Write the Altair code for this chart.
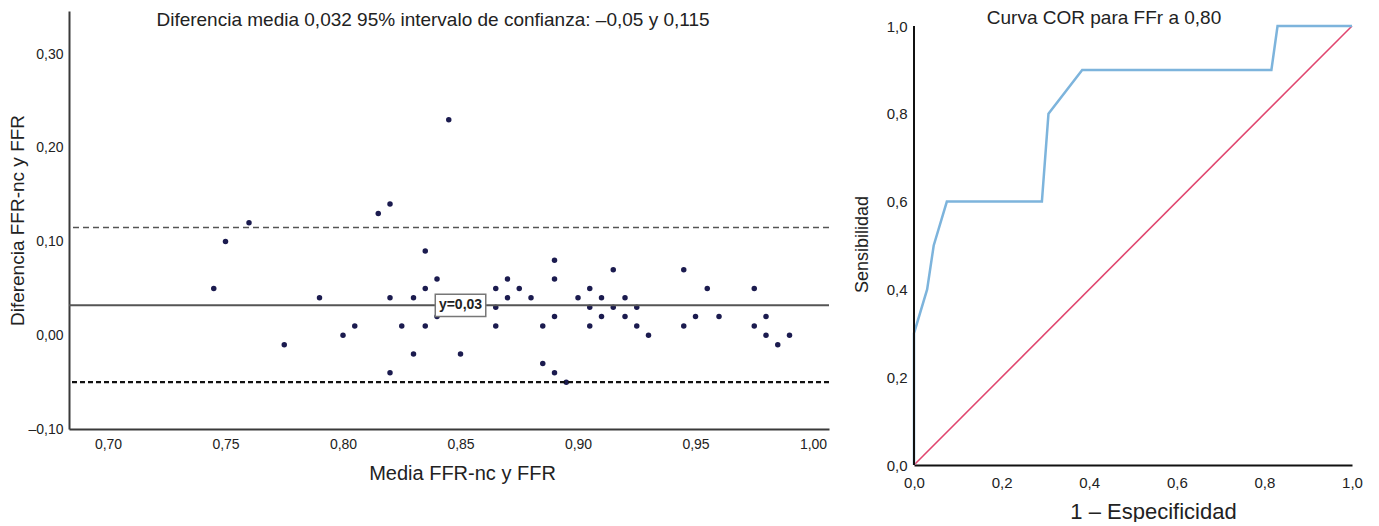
import altair as alt
import pandas as pd

FONT = "Liberation Sans"

# ---- Bland-Altman data ----
media = [0.745, 0.75, 0.76, 0.775, 0.79, 0.80, 0.805, 0.815, 0.82, 0.82, 0.82, 0.825,
         0.83, 0.83, 0.835, 0.835, 0.835, 0.84, 0.84, 0.845, 0.85, 0.85, 0.865, 0.865,
         0.865, 0.87, 0.87, 0.875, 0.88, 0.885, 0.885, 0.89, 0.89, 0.89, 0.89, 0.895,
         0.90, 0.905, 0.905, 0.905, 0.91, 0.91, 0.915, 0.915, 0.92, 0.92, 0.925, 0.925,
         0.93, 0.945, 0.945, 0.95, 0.955, 0.96, 0.975, 0.975, 0.98, 0.98, 0.985, 0.99]
diferencia = [0.05, 0.10, 0.12, -0.01, 0.04, 0.00, 0.01, 0.13, 0.14, 0.04, -0.04, 0.01,
              0.04, -0.02, 0.09, 0.05, 0.01, 0.06, 0.02, 0.23, 0.04, -0.02, 0.05, 0.03,
              0.01, 0.06, 0.04, 0.05, 0.04, 0.01, -0.03, 0.08, 0.06, 0.02, -0.04, -0.05,
              0.04, 0.05, 0.03, 0.01, 0.04, 0.02, 0.07, 0.03, 0.04, 0.02, 0.03, 0.01,
              0.00, 0.07, 0.01, 0.02, 0.05, 0.02, 0.05, 0.01, 0.02, 0.00, -0.01, 0.00]
mean_diff = 0.032
upper_loa = 0.115
lower_loa = -0.05
mean_label = "y=0,03"
x_ticks = [0.70, 0.75, 0.80, 0.85, 0.90, 0.95, 1.00]
y_ticks = [-0.10, 0.00, 0.10, 0.20, 0.30]

# ---- ROC data ----
fpr = [0.0, 0.0, 0.03, 0.045, 0.075, 0.292, 0.307, 0.384, 0.816, 0.83, 1.0]
tpr = [0.0, 0.3, 0.4, 0.5, 0.6, 0.6, 0.8, 0.9, 0.9, 1.0, 1.0]
ref_x = [0.0, 1.0]
ref_y = [0.0, 1.0]
roc_ticks = [0.0, 0.2, 0.4, 0.6, 0.8, 1.0]

lbl2 = "replace(replace(format(datum.value, '.2f'), '.', ','), '\u2212', '\u2013')"
lbl1 = "replace(format(datum.value, '.1f'), '.', ',')"

ba_df = pd.DataFrame({"media": media, "diferencia": diferencia})
lab_df = pd.DataFrame({"media": [0.85], "diferencia": [mean_diff], "texto": [mean_label]})

xs = alt.Scale(domain=[0.6834, 1.0068], nice=False, zero=False)
ys = alt.Scale(domain=[-0.10, 0.346], nice=False, zero=False)

common_axis = dict(ticks=False, grid=False, domainColor="#3a3a3a", domainWidth=2,
                   labelColor="#222", titleColor="#222", labelFont=FONT, titleFont=FONT,
                   titleFontWeight="normal", labelFlush=False)

points = alt.Chart(ba_df).mark_circle(size=30, color="#1b1b4f", opacity=1).encode(
    x=alt.X("media:Q", scale=xs,
            axis=alt.Axis(values=x_ticks, labelExpr=lbl2, title="Media FFR-nc y FFR",
                          labelPadding=8, labelFontSize=14, titleFontSize=20,
                          titlePadding=12, titleX=393, **common_axis)),
    y=alt.Y("diferencia:Q", scale=ys,
            axis=alt.Axis(values=y_ticks, labelExpr=lbl2, title="Diferencia FFR-nc y FFR",
                          labelPadding=6, labelFontSize=14, titleFontSize=19,
                          titlePadding=0, **common_axis)),
)

mean_rule = alt.Chart(lab_df).mark_rule(color="#555", strokeWidth=2).encode(
    y=alt.datum(mean_diff))
up_rule = alt.Chart(lab_df).mark_rule(color="#555", strokeWidth=1.6, strokeDash=[6, 4]).encode(
    y=alt.datum(upper_loa))
lo_rule = alt.Chart(lab_df).mark_rule(color="#111", strokeWidth=2.2, strokeDash=[5, 3]).encode(
    y=alt.datum(lower_loa))

box = alt.Chart(lab_df).mark_point(
    shape="M-1,-0.44L1,-0.44L1,0.44L-1,0.44Z", size=2550, filled=True,
    fill="white", fillOpacity=1, stroke="#777", strokeWidth=1.5, opacity=1
).encode(x="media:Q", y="diferencia:Q")
box_text = alt.Chart(lab_df).mark_text(
    font=FONT, fontSize=14, fontWeight="bold", color="#222"
).encode(x="media:Q", y="diferencia:Q", text="texto:N")

left = alt.layer(points, up_rule, lo_rule, mean_rule, box, box_text).properties(
    width=760, height=418,
    title=alt.TitleParams(
        text="Diferencia media 0,032 95% intervalo de confianza: \u20130,05 y 0,115",
        font=FONT, fontSize=19, fontWeight="normal", color="#222",
        anchor="middle", frame="group", offset=-19, dx=-16),
)

# ---- ROC chart ----
roc_df = pd.DataFrame({"fpr": fpr, "tpr": tpr, "orden": list(range(len(fpr)))})
diag_df = pd.DataFrame({"fpr": ref_x, "tpr": ref_y, "orden": [0, 1]})
rxs = alt.Scale(domain=[0, 1], nice=False, zero=False)
rys = alt.Scale(domain=[0, 1.0342], nice=False, zero=False)

roc_axis = dict(common_axis)
roc_axis["domainColor"] = "#111"

roc = alt.Chart(roc_df).mark_line(color="#7db4dc", strokeWidth=2.5).encode(
    x=alt.X("fpr:Q", scale=rxs,
            axis=alt.Axis(values=roc_ticks, labelExpr=lbl1, title="1 \u2013 Especificidad",
                          labelPadding=10, labelFontSize=15, titleFontSize=22,
                          titlePadding=11, titleX=239, **roc_axis)),
    y=alt.Y("tpr:Q", scale=rys,
            axis=alt.Axis(values=roc_ticks, labelExpr=lbl1, title="Sensibilidad",
                          labelPadding=7, labelFontSize=15, titleFontSize=18,
                          titlePadding=15, titleY=233, domain=False, **roc_axis)),
    order="orden:Q",
)
diag = alt.Chart(diag_df).mark_line(color="#e0466f", strokeWidth=1.6).encode(
    x="fpr:Q", y="tpr:Q", order="orden:Q")
yline = alt.Chart(diag_df).mark_rule(color="#111", strokeWidth=2).encode(
    x=alt.value(0), y=alt.datum(0), y2=alt.datum(1))

right = alt.layer(diag, roc, yline).properties(
    width=438, height=454,
    title=alt.TitleParams(
        text="Curva COR para FFr a 0,80",
        font=FONT, fontSize=19, fontWeight="normal", color="#222",
        anchor="middle", frame="group", offset=-17, dx=-29),
)

chart = alt.hconcat(left, right, spacing=22).properties(
    padding={"left": 0, "top": 1, "right": 5, "bottom": 0}
).configure(font=FONT, view=alt.ViewConfig(stroke=None))

chart.save("out.html", embed_options={"renderer": "svg", "actions": False})
